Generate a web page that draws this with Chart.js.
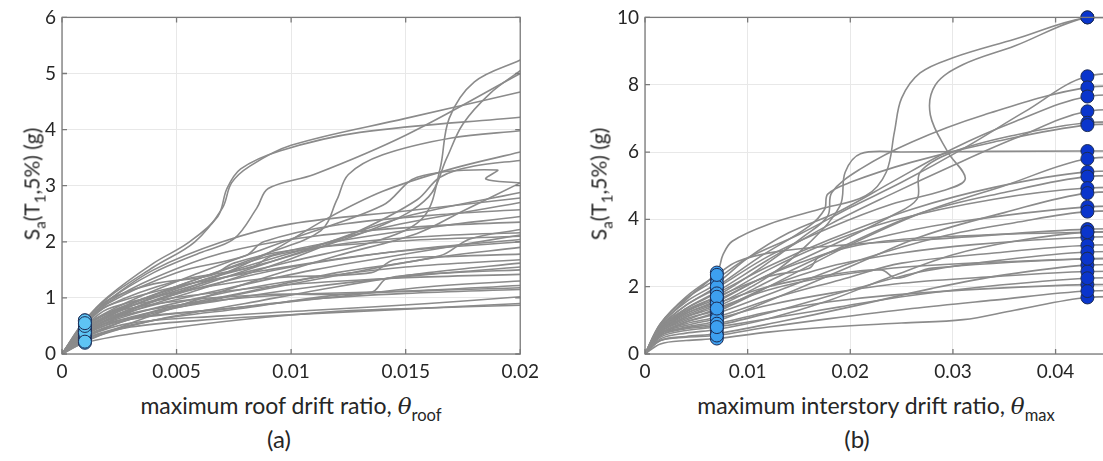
<!DOCTYPE html>
<html>
<head>
<meta charset="utf-8">
<script src="https://cdn.jsdelivr.net/npm/chart.js@4.4.1/dist/chart.umd.min.js"></script>
<style>
  html, body { margin: 0; padding: 0; background: #fff; overflow: hidden; width: 1103px; height: 461px; }
  body { position: relative; font-family: Lato, 'Open Sans', sans-serif; color: #262626; }
  canvas { position: absolute; top: 0; }
  #chartA { left: 0; }
  #chartB { left: 583px; }
  .ytitle { position: absolute; top: 184px; font-size: 21px; white-space: nowrap; transform: translate(-50%, -50%) rotate(-90deg); }
  .xtitle { position: absolute; top: 391px; font-size: 23px; white-space: nowrap; transform: translateX(-50%); }
  .cap { position: absolute; top: 424px; font-size: 24px; transform: translateX(-50%); }
  sub { font-size: 72%; vertical-align: -0.4em; line-height: 0; }
  i { font-family: 'DejaVu Serif', serif; }
</style>
</head>
<body>
<canvas id="chartA" width="545" height="384"></canvas>
<canvas id="chartB" width="600" height="384"></canvas>

<div class="ytitle" style="left:31px">S<sub>a</sub>(T<sub>1</sub>,5%) (g)</div>
<div class="ytitle" style="left:598px">S<sub>a</sub>(T<sub>1</sub>,5%) (g)</div>
<div class="xtitle" style="left:291px">maximum roof drift ratio, <i>θ</i><sub>roof</sub></div>
<div class="xtitle" style="left:876px">maximum interstory drift ratio, <i>θ</i><sub>max</sub></div>
<div class="cap" style="left:279px">(a)</div>
<div class="cap" style="left:857px">(b)</div>

<script>
// (a) roof drift vs Sa, one array of [drift, Sa] per ground motion
const curvesA = [
  [[0,0],[.001,.2],[.004,.42],[.008,.62],[.012,.76],[.016,.82],[.02,.87]],
  [[0,0],[.001,.26],[.003,.48],[.006,.6],[.01,.7],[.015,.8],[.02,.9]],
  [[0,0],[.001,.3],[.003,.55],[.007,.68],[.011,.78],[.016,.9],[.02,1.02]],
  [[0,0],[.001,.36],[.003,.62],[.007,.8],[.011,.98],[.015,1.08],[.02,1.15]],
  [[0,0],[.001,.28],[.004,.6],[.008,.82],[.012,1.05],[.016,1.13],[.02,1.18]],
  [[0,0],[.001,.42],[.003,.72],[.006,.92],[.01,1.06],[.015,1.12],[.02,1.22]],
  [[0,0],[.001,.4],[.003,.64],[.007,.8],[.012,1.02],[.016,1.2],[.02,1.3]],
  [[0,0],[.001,.46],[.002,.72],[.005,.94],[.009,1.06],[.0135,1.1],[.0142,1.35],[.017,1.45],[.02,1.5]],
  [[0,0],[.001,.5],[.003,.86],[.006,1.06],[.01,1.24],[.015,1.36],[.02,1.42]],
  [[0,0],[.001,.34],[.003,.66],[.007,.96],[.011,1.2],[.016,1.42],[.02,1.55]],
  [[0,0],[.001,.24],[.004,.6],[.008,.9],[.012,1.2],[.016,1.45],[.02,1.62]],
  [[0,0],[.001,.38],[.003,.7],[.006,1.0],[.01,1.3],[.015,1.55],[.02,1.68]],
  [[0,0],[.001,.48],[.002,.8],[.005,1.1],[.009,1.35],[.0135,1.45],[.0145,1.68],[.017,1.74],[.02,1.78]],
  [[0,0],[.001,.32],[.003,.62],[.007,1.0],[.012,1.4],[.016,1.7],[.02,1.9]],
  [[0,0],[.001,.55],[.002,.86],[.005,1.2],[.009,1.5],[.014,1.8],[.02,2.0]],
  [[0,0],[.001,.44],[.003,.8],[.006,1.18],[.01,1.55],[.015,1.85],[.02,2.04]],
  [[0,0],[.001,.6],[.002,.96],[.004,1.25],[.0065,1.4],[.0075,1.62],[.01,1.85],[.015,2.02],[.02,2.1]],
  [[0,0],[.001,.4],[.003,.76],[.007,1.15],[.011,1.5],[.016,1.85],[.02,2.12]],
  [[0,0],[.001,.52],[.002,.86],[.005,1.3],[.0083,1.55],[.0092,1.75],[.013,2.0],[.017,2.12],[.02,2.16]],
  [[0,0],[.001,.3],[.004,.76],[.008,1.1],[.012,1.45],[.0165,1.75],[.0178,2.05],[.02,2.22]],
  [[0,0],[.001,.57],[.002,.92],[.004,1.35],[.007,1.8],[.011,2.1],[.016,2.28],[.02,2.35]],
  [[0,0],[.001,.46],[.003,.88],[.006,1.35],[.01,1.85],[.015,2.2],[.02,2.45]],
  [[0,0],[.001,.5],[.002,.9],[.005,1.45],[.008,1.75],[.0088,2.0],[.012,2.3],[.017,2.5],[.02,2.57]],
  [[0,0],[.001,.42],[.003,.85],[.006,1.3],[.01,1.8],[.014,2.25],[.02,2.7]],
  [[0,0],[.001,.55],[.002,.95],[.004,1.5],[.007,2.0],[.01,2.32],[.015,2.55],[.02,2.78]],
  [[0,0],[.001,.58],[.002,1.0],[.004,1.55],[.0058,2.0],[.007,2.6],[.0074,3.05],[.0082,3.35],[.01,3.72],[.015,4.2],[.02,4.67]],
  [[0,0],[.001,.6],[.002,1.02],[.004,1.62],[.0055,1.98],[.0068,2.45],[.0072,2.95],[.0078,3.3],[.0095,3.62],[.013,3.95],[.02,4.22]],
  [[0,0],[.001,.45],[.003,.85],[.006,1.25],[.01,1.65],[.014,2.05],[.0158,2.45],[.0165,3.3],[.0169,4.2],[.018,4.85],[.02,5.24]],
  [[0,0],[.001,.5],[.003,.9],[.006,1.3],[.01,1.75],[.014,2.3],[.016,2.8],[.0168,3.5],[.0175,4.1],[.0187,4.65],[.02,5.05]],
  [[0,0],[.001,.4],[.003,.8],[.006,1.25],[.009,1.8],[.0115,2.4],[.014,2.9],[.017,3.3],[.02,3.6]],
  [[0,0],[.001,.35],[.003,.75],[.006,1.15],[.01,1.7],[.013,2.2],[.0155,2.75],[.0165,3.15],[.018,3.35],[.02,3.45]],
  [[0,0],[.001,.5],[.003,.95],[.006,1.45],[.01,2.05],[.014,2.65],[.0155,3.15],[.019,3.28],[.0185,3.12],[.02,3.05]],
  [[0,0],[.001,.38],[.003,.78],[.007,1.35],[.011,1.9],[.015,2.45],[.02,2.88]],
  [[0,0],[.001,.22],[.004,.7],[.008,1.25],[.012,1.75],[.0155,2.15],[.0175,2.55],[.02,3.05]],
  [[0,0],[.001,.5],[.003,.9],[.006,1.35],[.009,1.8],[.0113,2.2],[.012,2.75],[.0125,3.2],[.014,3.55],[.017,3.85],[.02,3.98]],
  [[0,0],[.001,.55],[.002,.95],[.004,1.45],[.006,1.8],[.0075,2.05],[.0085,2.6],[.009,2.95],[.011,3.2],[.015,3.9],[.02,5.0]]
]

// (b) max interstory drift vs Sa, flat after the collapse point
const curvesB = [
  [[0,0],[.0015,.85],[.0045,1.75],[.007,2.42],[.0076,2.95],[.0085,3.35],[.012,3.85],[.017,4.3],[.0215,4.7],[.0235,5.4],[.0243,6.6],[.025,7.6],[.0268,8.35],[.03,8.8],[.036,9.35],[.0431,10],[.05,10]],
  [[0,0],[.0015,.8],[.004,1.45],[.007,1.96],[.012,2.9],[.018,3.75],[.024,4.45],[.029,4.85],[.0312,5.2],[.0295,6.0],[.0278,7.1],[.0283,8.0],[.031,8.6],[.036,9.15],[.0431,10],[.05,10]],
  [[0,0],[.0015,.9],[.004,1.65],[.007,2.23],[.01,2.85],[.015,3.55],[.02,4.35],[.025,5.1],[.031,6.1],[.037,7.2],[.0431,8.25],[.05,8.25]],
  [[0,0],[.0015,.7],[.004,1.25],[.007,1.72],[.011,2.5],[.0155,3.5],[.0178,4.1],[.0182,4.8],[.021,5.5],[.026,6.3],[.033,7.1],[.0431,7.92],[.05,7.92]],
  [[0,0],[.0015,.85],[.004,1.55],[.007,2.1],[.01,2.85],[.014,3.6],[.019,4.25],[.024,5.1],[.03,6.1],[.036,6.9],[.0431,7.65],[.05,7.65]],
  [[0,0],[.0015,.75],[.004,1.35],[.007,1.85],[.012,2.8],[.018,3.85],[.024,4.75],[.03,5.6],[.036,6.4],[.0431,7.21],[.05,7.21]],
  [[0,0],[.0015,.7],[.004,1.2],[.007,1.59],[.012,2.35],[.018,3.2],[.024,4.1],[.0265,4.6],[.0268,5.4],[.03,6.0],[.036,6.5],[.0431,6.87],[.05,6.87]],
  [[0,0],[.0015,.8],[.004,1.45],[.007,2.0],[.011,2.85],[.016,3.8],[.0175,4.3],[.0178,4.75],[.02,5.1],[.026,5.7],[.034,6.3],[.0431,6.8],[.05,6.8]],
  [[0,0],[.0015,.65],[.004,1.1],[.007,1.47],[.012,2.3],[.016,3.3],[.019,4.4],[.0195,5.4],[.021,5.95],[.025,6.0],[.0431,6.03],[.05,6.03]],
  [[0,0],[.0015,.6],[.004,.95],[.007,1.25],[.013,2.15],[.02,3.25],[.027,4.2],[.035,5.0],[.0431,5.8],[.05,5.8]],
  [[0,0],[.0015,.8],[.004,1.35],[.007,1.8],[.012,2.6],[.018,3.4],[.026,4.3],[.034,4.95],[.0431,5.41],[.05,5.41]],
  [[0,0],[.0015,.7],[.004,1.1],[.007,1.4],[.013,2.3],[.02,3.3],[.027,4.2],[.035,4.8],[.0431,5.27],[.05,5.27]],
  [[0,0],[.0015,.75],[.004,1.25],[.007,1.65],[.012,2.5],[.017,3.2],[.024,3.95],[.034,4.6],[.0431,4.93],[.05,4.93]],
  [[0,0],[.0015,.55],[.004,.8],[.007,.98],[.013,1.7],[.02,2.6],[.027,3.5],[.035,4.2],[.0431,4.78],[.05,4.78]],
  [[0,0],[.0015,.7],[.004,1.2],[.007,1.55],[.011,2.2],[.015,2.7],[.022,3.4],[.03,3.9],[.0431,4.37],[.05,4.37]],
  [[0,0],[.0015,.6],[.004,.95],[.007,1.2],[.014,2.0],[.021,2.8],[.029,3.5],[.036,3.9],[.0431,4.23],[.05,4.23]],
  [[0,0],[.0015,.9],[.004,1.7],[.007,2.35],[.009,2.75],[.013,3.05],[.02,3.25],[.03,3.45],[.0431,3.71],[.05,3.71]],
  [[0,0],[.0015,.45],[.004,.62],[.007,.73],[.012,1.05],[.018,1.6],[.024,2.3],[.03,2.95],[.036,3.35],[.0431,3.62],[.05,3.62]],
  [[0,0],[.0015,.65],[.004,1.05],[.007,1.3],[.012,2.0],[.018,2.6],[.025,3.0],[.032,3.25],[.0431,3.47],[.05,3.47]],
  [[0,0],[.0015,.6],[.004,.9],[.007,1.1],[.013,1.7],[.019,2.2],[.025,2.7],[.034,3.0],[.0431,3.23],[.05,3.23]],
  [[0,0],[.0015,.55],[.004,.75],[.007,.85],[.013,1.3],[.02,1.9],[.027,2.45],[.035,2.8],[.0431,3.03],[.05,3.03]],
  [[0,0],[.0015,.7],[.004,1.15],[.007,1.5],[.012,2.0],[.018,2.35],[.023,2.5],[.0245,2.25],[.028,2.55],[.0431,2.83],[.05,2.83]],
  [[0,0],[.0015,.4],[.004,.52],[.007,.6],[.013,.95],[.02,1.4],[.028,1.95],[.035,2.35],[.0431,2.64],[.05,2.64]],
  [[0,0],[.0015,.6],[.004,.85],[.007,1.05],[.012,1.45],[.018,1.8],[.025,2.1],[.034,2.3],[.0431,2.45],[.05,2.45]],
  [[0,0],[.0015,.3],[.004,.4],[.007,.46],[.012,.65],[.018,.8],[.025,.92],[.031,1.02],[.036,1.3],[.0431,1.68],[.05,1.68]],
  [[0,0],[.0015,.6],[.004,.78],[.007,.9],[.012,1.25],[.018,1.55],[.024,1.75],[.034,1.95],[.0431,2.06],[.05,2.06]],
  [[0,0],[.0015,.4],[.004,.5],[.007,.55],[.012,.8],[.018,1.05],[.026,1.35],[.034,1.6],[.0431,1.87],[.05,1.87]],
  [[0,0],[.0015,.5],[.004,.7],[.007,.8],[.013,1.1],[.019,1.4],[.025,1.7],[.033,2.0],[.0431,2.25],[.05,2.25]],
  [[0,0],[.0015,.75],[.004,1.3],[.007,1.7],[.012,2.3],[.016,2.55],[.017,2.9],[.022,3.3],[.03,3.5],[.0431,3.62],[.05,3.62]],
  [[0,0],[.0015,.65],[.004,1.0],[.007,1.35],[.012,1.9],[.018,2.3],[.026,2.6],[.0431,2.83],[.05,2.83]]
]

// drift where the markers sit
const markerXA = 0.001
const markerXB = [0.007, 0.0431]

const xTicksA = [0, 0.005, 0.01, 0.015, 0.02]
const yTicksA = [0, 1, 2, 3, 4, 5, 6]
const xTicksB = [0, 0.01, 0.02, 0.03, 0.04, 0.05]
const yTicksB = [0, 2, 4, 6, 8, 10]

const GRAY = '#8b8b8b'
const FONT = 'Lato, "Open Sans", sans-serif'

function markersAt(curves, x) {
  return curves.map((c) => {
    const p = c.find((q) => q[0] === x)
    return { x: p[0], y: p[1] }
  })
}

// MATLAB style box with inward ticks
const boxPlugin = {
  id: 'box',
  afterDraw(chart) {
    const { ctx, chartArea: a, scales } = chart
    ctx.save()
    ctx.strokeStyle = '#7a7a7a'
    ctx.lineWidth = 1.3
    ctx.strokeRect(a.left, a.top, a.right - a.left, a.bottom - a.top)
    ctx.beginPath()
    for (let t of scales.x.ticks) {
      let px = scales.x.getPixelForValue(t.value)
      ctx.moveTo(px, a.bottom); ctx.lineTo(px, a.bottom - 5)
      ctx.moveTo(px, a.top); ctx.lineTo(px, a.top + 5)
    }
    for (let t of scales.y.ticks) {
      let py = scales.y.getPixelForValue(t.value)
      ctx.moveTo(a.left, py); ctx.lineTo(a.left + 5, py)
      ctx.moveTo(a.right, py); ctx.lineTo(a.right - 5, py)
    }
    ctx.stroke()
    ctx.restore()
  },
}

function axis(min, max, ticks, fit) {
  return {
    type: 'linear',
    min: min,
    max: max,
    afterBuildTicks: (s) => { s.ticks = ticks.map((v) => ({ value: v })) },
    afterFit: fit,
    ticks: {
      color: '#262626',
      font: { family: FONT, size: 19 },
      padding: 6,
      maxRotation: 0,
      autoSkip: false,
      callback: (v) => String(parseFloat(Number(v).toFixed(4))),
    },
    grid: { color: '#e8e8e8', lineWidth: 1, drawTicks: false },
    border: { display: false },
  }
}

function paintChart(id, curves, markerSets, xMax, xTicks, yMax, yTicks) {
  const datasets = curves.map((c) => ({
    data: c.map((p) => ({ x: p[0], y: p[1] })),
    showLine: true,
    pointRadius: 0,
    borderColor: GRAY,
    borderWidth: 1.6,
    tension: 0.35,
    order: 2,
  }))

  for (let m of markerSets) {
    datasets.push({
      data: m.points,
      showLine: false,
      pointRadius: 6.5,
      pointBackgroundColor: m.color,
      pointBorderColor: '#1c2c55',
      pointBorderWidth: 1,
      clip: false,
      order: 1,
    })
  }

  new Chart(document.getElementById(id), {
    type: 'scatter',
    data: { datasets: datasets },
    options: {
      responsive: false,
      animation: false,
      events: [],
      layout: { padding: { left: 0, right: 24, top: 11, bottom: 0 } },
      plugins: { legend: { display: false }, tooltip: { enabled: false } },
      scales: {
        x: axis(0, xMax, xTicks, (s) => { s.height = 30 }),
        y: axis(0, yMax, yTicks, (s) => { s.width = 62 }),
      },
    },
    plugins: [boxPlugin],
  })
}

paintChart('chartA', curvesA, [
  { points: markersAt(curvesA, markerXA), color: '#5ec4f4' },
], 0.02, xTicksA, 6, yTicksA)

paintChart('chartB', curvesB, [
  { points: markersAt(curvesB, markerXB[0]), color: '#3d9ff0' },
  { points: markersAt(curvesB, markerXB[1]), color: '#0a35cc' },
], 0.05, xTicksB, 10, yTicksB)
</script>
</body>
</html>
